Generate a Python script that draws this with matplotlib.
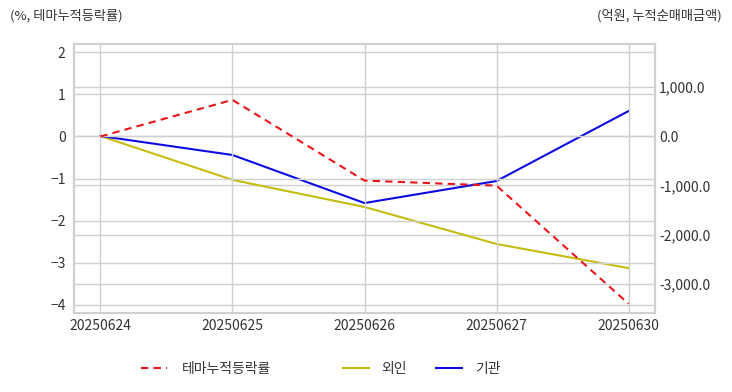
import matplotlib
matplotlib.use("Agg")
import matplotlib.pyplot as plt
from matplotlib.ticker import FuncFormatter

plt.rcParams["font.family"] = ["Noto Sans CJK KR", "DejaVu Sans"]

dates = ["20250624", "20250625", "20250626", "20250627", "20250630"]
theme_return = [0.0, 0.87, -1.05, -1.17, -3.98]
foreign_net = [0.0, -890.0, -1440.0, -2190.0, -2680.0]
institution_net = [0.0, -385.0, -1360.0, -913.0, 507.0]

text_color = "#333333"
grid_color = "#d0d0d0"

fig = plt.figure(figsize=(7.32, 3.92), dpi=100)
ax = fig.add_axes([74 / 732, 1 - 313 / 392, 581 / 732, 269 / 392])
ax2 = ax.twinx()

x = list(range(len(dates)))
(l1,) = ax.plot(x, theme_return, color="#e8161b", linestyle=(0, (3.5, 2.5)), linewidth=1.5, label="테마누적등락률")
(l2,) = ax2.plot(x, foreign_net, color="#c6bc10", linewidth=1.5, label="외인")
(l3,) = ax2.plot(x, institution_net, color="#0c0ce0", linewidth=1.5, label="기관")
ax.set_zorder(ax2.get_zorder() + 1)
ax.patch.set_visible(False)

ax.set_xlim(-0.2, 4.2)
ax.set_ylim(-4.2, 2.2)
ax2.set_ylim(-3590, 1866)
ax.set_xticks(x)
ax.set_xticklabels(dates)
ax.set_yticks([2, 1, 0, -1, -2, -3, -4])
ax2.set_yticks([1000, 0, -1000, -2000, -3000])
ax2.yaxis.set_major_formatter(FuncFormatter(lambda v, p: f"{v:,.1f}"))

for a in (ax, ax2):
    a.grid(True, color=grid_color, linewidth=1)
    a.set_axisbelow(True)
    a.tick_params(length=0, labelsize=10, colors=text_color, pad=6)
    for s in a.spines.values():
        s.set_color(grid_color)
        s.set_linewidth(1.5)
ax2.grid(axis="x", visible=False)
ax.tick_params(axis="x", pad=4)
ax2.tick_params(axis="y", pad=3)

fig.text(10 / 732, 1 - 16 / 392, "(%, 테마누적등락률)", fontsize=9.5, color=text_color, va="center", ha="left")
fig.text(722 / 732, 1 - 16 / 392, "(억원, 누적순매매금액)", fontsize=9.5, color=text_color, va="center", ha="right")

leg1 = fig.legend(handles=[l1], loc="center left", bbox_to_anchor=(128 / 732, 1 - 369 / 392),
                  frameon=False, fontsize=10, handlelength=1.9, handletextpad=1.1)
leg2 = fig.legend(handles=[l2, l3], loc="center left", bbox_to_anchor=(330 / 732, 1 - 369 / 392),
                  frameon=False, fontsize=10, ncol=2, handlelength=1.9, handletextpad=0.9, columnspacing=2.1)
for leg in (leg1, leg2):
    for t in leg.get_texts():
        t.set_color(text_color)

fig.savefig("out.png", dpi=100)
